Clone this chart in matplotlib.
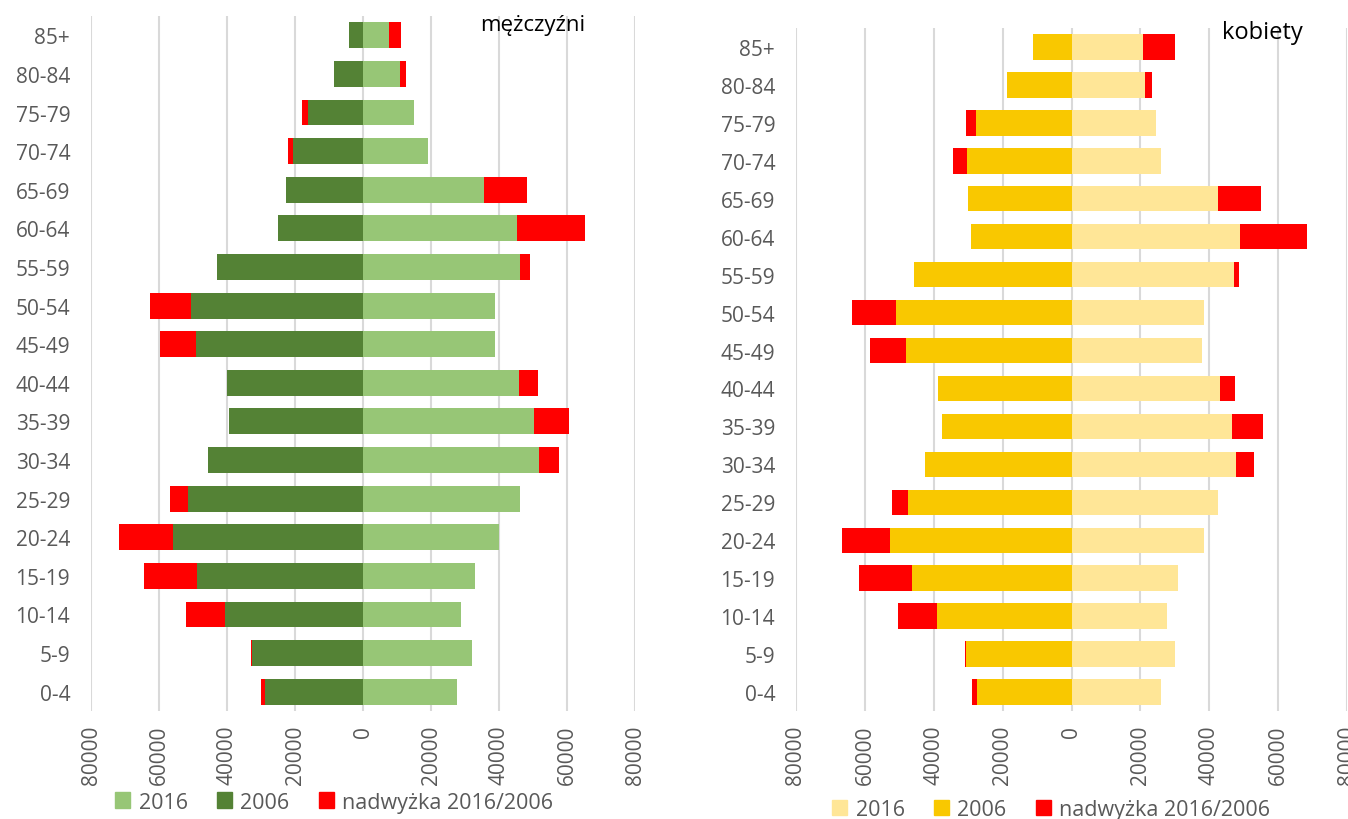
import numpy as np
import matplotlib
matplotlib.use("Agg")
import matplotlib.pyplot as plt
from matplotlib.patches import Patch

plt.rcParams['font.family'] = ['Open Sans', 'DejaVu Sans']

# grupy wieku (od najmłodszej)
grupy = ["0-4", "5-9", "10-14", "15-19", "20-24", "25-29", "30-34", "35-39", "40-44",
         "45-49", "50-54", "55-59", "60-64", "65-69", "70-74", "75-79", "80-84", "85+"]

# mężczyźni
m_2006 = [28700, 32600, 40500, 48700, 56000, 51500, 45500, 39400, 40100,
          49200, 50700, 42800, 24900, 22600, 20500, 16300, 8600, 4100]
m_2016 = [27600, 32000, 28700, 32900, 40100, 46300, 51900, 50200, 45900,
          38900, 38900, 46100, 45400, 35700, 19200, 14900, 10800, 7700]
m_nadw_2006 = [1400, 350, 11500, 15700, 15900, 5200, 0, 0, 0,
               10500, 11900, 0, 0, 0, 1500, 1500, 0, 0]
m_nadw_2016 = [0, 0, 0, 0, 0, 0, 5800, 10400, 5500,
               0, 0, 3100, 19900, 12600, 0, 0, 1800, 3500]

# kobiety
k_2006 = [27400, 30500, 39200, 46200, 52700, 47400, 42400, 37700, 38700,
          48200, 51100, 45700, 29200, 30100, 30200, 27600, 18700, 11100]
k_2016 = [26000, 30100, 27700, 30800, 38600, 42600, 47800, 46600, 43100,
          37800, 38400, 47100, 48800, 42500, 25900, 24600, 21200, 20700]
k_nadw_2006 = [1400, 500, 11300, 15400, 14000, 4700, 0, 0, 0,
               10200, 12700, 0, 0, 0, 4200, 2900, 0, 0]
k_nadw_2016 = [0, 0, 0, 0, 0, 0, 5300, 8900, 4300,
               0, 0, 1400, 19700, 12600, 0, 0, 2300, 9400]

ticks = [-80000, -60000, -40000, -20000, 0, 20000, 40000, 60000, 80000]

fig = plt.figure(figsize=(13.48, 8.2), dpi=100)
ax1 = fig.add_axes([91/1348, 1-712/820, 544/1348, 695/820])
ax2 = fig.add_axes([796/1348, 1-712/820, 551/1348, 683/820])

grey = "#595959"
czerwony = "#FF0000"


def piramida(ax, v2006, v2016, n2006, n2016, kol2016, kol2006, tytul, tx, ty, tfs, legx, legy):
    y = np.arange(len(grupy))
    v2006 = np.array(v2006)
    v2016 = np.array(v2016)
    h = 0.67
    ax.barh(y, -v2006, height=h, color=kol2006, zorder=3)
    ax.barh(y, -np.array(n2006), left=-v2006, height=h, color=czerwony, zorder=3)
    ax.barh(y, v2016, height=h, color=kol2016, zorder=3)
    ax.barh(y, n2016, left=v2016, height=h, color=czerwony, zorder=3)

    ax.set_xlim(-80000, 80000)
    ax.set_ylim(-0.5, len(grupy) - 0.5)
    ax.set_xticks(ticks)
    ax.set_xticklabels([str(abs(t)) for t in ticks], rotation=90, color=grey, fontsize=15)
    ax.set_yticks(y)
    ax.set_yticklabels(grupy, color=grey, fontsize=15)
    ax.tick_params(length=0)
    ax.tick_params(axis='y', pad=15)
    ax.tick_params(axis='x', pad=10)
    ax.xaxis.grid(True, color="#d9d9d9", linewidth=1.5, zorder=0)
    ax.set_axisbelow(True)
    for s in ax.spines.values():
        s.set_visible(False)

    ax.text(tx, ty, tytul, transform=ax.transAxes, ha='right', va='center',
            fontsize=tfs, color='black')

    uchwyty = [Patch(color=kol2016), Patch(color=kol2006), Patch(color=czerwony)]
    ax.legend(uchwyty, ["2016", "2006", "nadwyżka 2016/2006"], loc='center',
              bbox_to_anchor=(legx, legy), bbox_transform=ax.transAxes,
              ncol=3, frameon=False, fontsize=15.5, handlelength=0.7, handleheight=0.7,
              handletextpad=0.4, columnspacing=1.35, labelcolor=grey)


piramida(ax1, m_2006, m_2016, m_nadw_2006, m_nadw_2016, "#97C676", "#548235",
         "mężczyźni", 0.908, 0.988, 16, 0.447, -0.131)
piramida(ax2, k_2006, k_2016, k_nadw_2006, k_nadw_2016, "#FFE697", "#F9C800",
         "kobiety", 0.92, 0.994, 17, 0.463, -0.1445)

fig.savefig("out.png", dpi=100)
